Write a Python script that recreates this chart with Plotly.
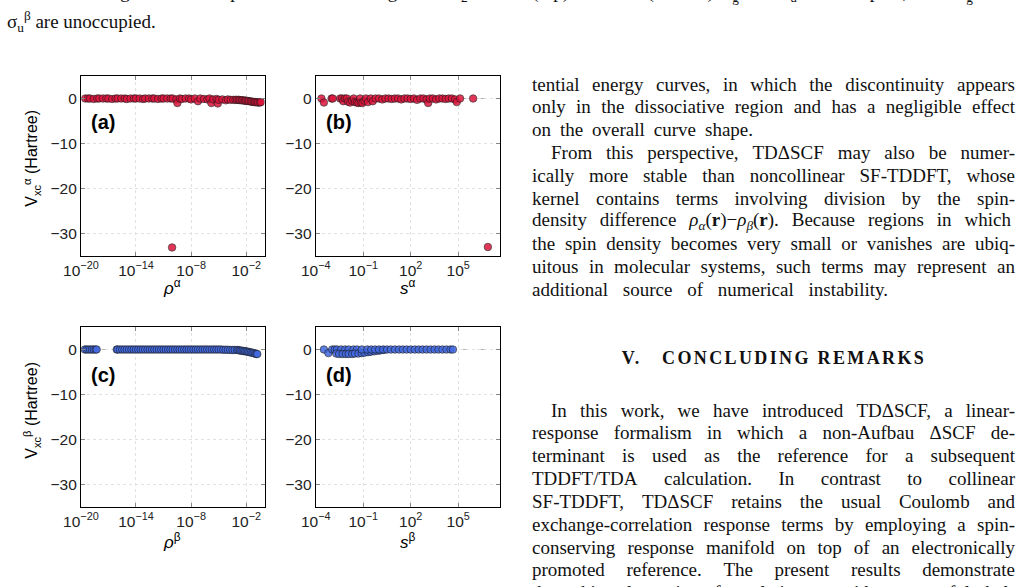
import json
import plotly.graph_objects as go

W, H = 1028, 587

# ---------------- data ----------------
RHO_ALPHA = [
    3e-20, 6e-20, 1e-19, 2.5e-19, 6e-19, 1e-18, 2.5e-18, 6e-18,
    1e-17, 2.5e-17, 6e-17, 1e-16, 2.5e-16, 6e-16, 1e-15, 2.5e-15, 6e-15,
    1e-14, 2.5e-14, 6e-14, 1e-13, 2.5e-13, 6e-13, 1e-12, 2.5e-12, 6e-12,
    1e-11, 2.5e-11, 6e-11, 8.5e-11, 1e-10, 2.5e-10, 3.2e-10, 6e-10,
    1e-9, 2.5e-9, 6e-9, 1e-8, 2.5e-8, 5.6e-8, 1e-7, 2.5e-7, 6e-7,
    1e-6, 1.6e-6, 2.5e-6, 6e-6, 8e-6, 1e-5, 2.5e-5, 6e-5,
    1e-4, 2e-4, 4e-4, 7e-4, 1e-3, 1.5e-3, 2e-3, 3e-3, 4e-3, 6e-3, 8e-3,
    1e-2, 1.5e-2, 2e-2, 3e-2, 4e-2, 6e-2, 8e-2, 1e-1, 1.5e-1, 2e-1, 3e-1, 4e-1,
]
VXC_ALPHA_RHO = [
    0, 0, 0, -0.1, 0, 0, 0, 0,
    0, -0.1, 0, 0, 0, 0, -0.1, 0, 0,
    0, 0, -0.1, 0, 0, 0, 0, -0.1, 0,
    0, 0, 0, -33.1, 0, -0.2, -1.0, 0,
    -0.1, 0, 0, -0.2, 0, -0.6, 0, -0.1, -0.2,
    0, -1.0, -0.2, -0.1, -1.1, -0.3, -0.2, -0.4,
    -0.2, -0.3, -0.3, -0.3, -0.3, -0.3, -0.35, -0.4, -0.4, -0.45, -0.5,
    -0.5, -0.55, -0.6, -0.65, -0.7, -0.75, -0.8, -0.8, -0.85, -0.9, -0.9, -0.8,
]
S_ALPHA = [
    2.3e-4, 3.3e-4, 1e-3, 1.2e-3,
    3.5e-3, 4.6e-3, 5.5e-3, 7e-3, 9.3e-3, 1.1e-2, 1.5e-2, 2e-2, 2.5e-2, 3e-2,
    4e-2, 5e-2, 6.3e-2, 7e-2, 9e-2, 1.2e-1, 1.5e-1, 2e-1, 3e-1, 4e-1, 6e-1,
    1, 1.6, 2.5, 4, 6.3, 10, 16, 25, 40, 63, 100, 160, 250, 400, 630,
    1000, 1260, 1600, 2500, 4000, 6300, 1e4, 1.6e4, 2.5e4, 4e4, 6.3e4, 8e4, 1.3e5,
    8.7e5, 7.4e6,
]
VXC_ALPHA_S = [
    0, -0.9, 0, 0,
    0, 0, -0.6, 0, 0, -0.7, -0.9, -0.5, 0, -0.8,
    -0.9, -1.0, 0, -0.9, -1.0, -0.5, 0, -0.8, 0, -0.6, 0,
    0, -0.2, 0, 0, -0.1, 0, 0, -0.2, 0, 0, -0.1, 0, -0.3, 0, 0,
    -0.2, -1.0, 0, 0, -0.2, 0, 0, -0.1, 0, 0, -0.2, -0.8, 0,
    0, -33.0,
]
RHO_BETA = [
    2.7e-20, 4e-20, 6.3e-20, 1e-19, 1.6e-19, 2.5e-19, 4e-19, 5.2e-19,
    8e-17,
    1e-16, 1.8e-16, 3.2e-16, 5.6e-16,
    1e-15, 1.8e-15, 3.2e-15, 5.6e-15,
    1e-14, 1.8e-14, 3.2e-14, 5.6e-14,
    1e-13, 1.8e-13, 3.2e-13, 5.6e-13,
    1e-12, 1.8e-12, 3.2e-12, 5.6e-12,
    1e-11, 1.8e-11, 3.2e-11, 5.6e-11,
    1e-10, 1.8e-10, 3.2e-10, 5.6e-10,
    1e-9, 1.8e-9, 3.2e-9, 5.6e-9,
    1e-8, 1.8e-8, 3.2e-8, 5.6e-8,
    1e-7, 1.8e-7, 3.2e-7, 5.6e-7,
    1e-6, 1.8e-6, 3.2e-6, 5.6e-6,
    1e-5, 1.8e-5, 3.2e-5, 5.6e-5,
    1e-4, 1.8e-4, 3.2e-4, 5.6e-4,
    1e-3, 1.4e-3, 2e-3, 2.8e-3, 4e-3, 5.6e-3, 8e-3,
    1.1e-2, 1.6e-2, 2.2e-2, 3.2e-2, 4.5e-2, 6.3e-2, 9e-2, 1.25e-1, 1.6e-1,
]
VXC_BETA_RHO = [
    0, 0, 0, 0, 0, 0, 0, 0,
    0,
    0, 0, 0, 0,
    0, 0, 0, 0,
    0, 0, 0, 0,
    0, 0, 0, 0,
    0, 0, 0, 0,
    0, 0, 0, 0,
    0, 0, 0, 0,
    0, 0, 0, 0,
    0, 0, 0, 0,
    0, 0, 0, 0,
    0, 0, 0, 0,
    0, 0, -0.05, -0.05,
    -0.05, -0.1, -0.1, -0.1,
    -0.1, -0.15, -0.2, -0.25, -0.3, -0.35, -0.4,
    -0.45, -0.5, -0.6, -0.65, -0.7, -0.8, -0.9, -1.0, -1.0,
]
S_BETA = [
    3.3e-4, 6.3e-4, 1.1e-3, 1.6e-3, 2.2e-3, 4e-3, 7.2e-3, 1.2e-2, 2.4e-2, 4e-2,
    2e-3, 3e-3, 5e-3, 8e-3, 1.2e-2, 2e-2, 3e-2, 5e-2, 8e-2, 1.2e-1, 2e-1, 3e-1,
    5e-1, 8e-1, 1.2, 2,
    8e-2, 1.8e-1, 3.2e-1, 5.6e-1, 1, 1.8, 3.2, 5.6, 10, 18, 32, 56, 100, 180,
    320, 560, 1000, 1800, 3200, 5600, 1e4, 1.8e4, 3.2e4, 4.6e4,
]
VXC_BETA_S = [
    0, -0.8, 0, 0, 0, 0, 0, 0, 0, 0,
    -0.9, -1.0, -1.0, -1.0, -1.0, -1.0, -0.9, -0.9, -0.8, -0.7, -0.6, -0.5,
    -0.4, -0.3, -0.2, -0.1,
    0, 0, 0, 0, 0, 0, 0, 0, 0, 0, 0, 0, 0, 0,
    0, 0, 0, 0, 0, 0, 0, 0, 0, 0,
]

Y_TICKS = [0, -10, -20, -30]
Y_TICK_TEXT = ["0", "\u221210", "\u221220", "\u221230"]
RHO_TICKS = [1e-20, 1e-14, 1e-8, 1e-2]
RHO_TICK_TEXT = ["10<sup>\u221220</sup>", "10<sup>\u221214</sup>",
                 "10<sup>\u22128</sup>", "10<sup>\u22122</sup>"]
S_TICKS = [1e-4, 1e-1, 1e2, 1e5]
S_TICK_TEXT = ["10<sup>\u22124</sup>", "10<sup>\u22121</sup>",
               "10<sup>2</sup>", "10<sup>5</sup>"]

CAPTION_LINES = [
    "FIG. 7. Exchange-correlation potential on the DFT grid for N<sub>2</sub> at 1.1 \u00c5 (top) and 3.0 \u00c5 (bottom). "
    "\u03c3<sub>g</sub><sup>\u03b1</sup> and \u03c3<sub>u</sub><sup>\u03b1</sup> are occupied, while \u03c3<sub>g</sub><sup>\u03b2</sup> and",
    "\u03c3<sub>u</sub><sup>\u03b2</sup> are unoccupied.",
]
PARA1_LINES = [
    "tential energy curves, in which the discontinuity appears",
    "only in the dissociative region and has a negligible effect",
    "on the overall curve shape.",
    "From this perspective, TD\u0394SCF may also be numer-",
    "ically more stable than noncollinear SF-TDDFT, whose",
    "kernel contains terms involving division by the spin-",
    "density difference <i>\u03c1</i><sub><i>\u03b1</i></sub>(<b>r</b>)\u2212<i>\u03c1</i><sub><i>\u03b2</i></sub>(<b>r</b>). Because regions in which",
    "the spin density becomes very small or vanishes are ubiq-",
    "uitous in molecular systems, such terms may represent an",
    "additional source of numerical instability.",
]
HEADING = "V.\u2003CONCLUDING REMARKS"
PARA2_LINES = [
    "In this work, we have introduced TD\u0394SCF, a linear-",
    "response formalism in which a non-Aufbau \u0394SCF de-",
    "terminant is used as the reference for a subsequent",
    "TDDFT/TDA calculation. In contrast to collinear",
    "SF-TDDFT, TD\u0394SCF retains the usual Coulomb and",
    "exchange-correlation response terms by employing a spin-",
    "conserving response manifold on top of an electronically",
    "promoted reference. The present results demonstrate",
    "that this alternative formulation provides a useful bal-",
]

RED = "#dc143c"
BLUE = "#4169e1"

fig = go.Figure()

panels = [
    dict(x=RHO_ALPHA, y=VXC_ALPHA_RHO, c=RED, ax="x", ay="y"),
    dict(x=S_ALPHA, y=VXC_ALPHA_S, c=RED, ax="x2", ay="y2"),
    dict(x=RHO_BETA, y=VXC_BETA_RHO, c=BLUE, ax="x3", ay="y3"),
    dict(x=S_BETA, y=VXC_BETA_S, c=BLUE, ax="x4", ay="y4"),
]
for p in panels:
    assert len(p["x"]) == len(p["y"])
    fig.add_trace(go.Scatter(
        x=p["x"], y=p["y"], mode="markers", xaxis=p["ax"], yaxis=p["ay"],
        marker=dict(size=7.5, color=p["c"], opacity=0.85,
                    line=dict(color="#1a1a1a", width=0.7)),
        showlegend=False, hoverinfo="skip",
    ))


def px_x(v):
    return v / W


def px_y(v):
    return 1 - v / H


X_DOM_L = [px_x(64), px_x(251)]
X_DOM_R = [px_x(303), px_x(491)]
Y_DOM_T = [px_y(256), px_y(76)]
Y_DOM_B = [px_y(507), px_y(327)]

TICKFONT = dict(family="Liberation Sans, Arial, sans-serif", size=15.5, color="#222")


def xaxis(domain, anchor, rng, tv, tt):
    return dict(domain=domain, anchor=anchor, type="log", range=rng,
                tickvals=tv, ticktext=tt, tickfont=TICKFONT,
                showline=True, linecolor="black", linewidth=1, mirror="ticks",
                ticks="inside", ticklen=4, tickcolor="#888",
                showgrid=True, gridcolor="#e2e2e2", griddash="dot", gridwidth=1,
                zeroline=False)


def yaxis(domain, anchor):
    return dict(domain=domain, anchor=anchor, range=[-35, 5],
                tickvals=Y_TICKS, ticktext=Y_TICK_TEXT, tickfont=TICKFONT,
                showline=True, linecolor="black", linewidth=1, mirror="ticks",
                ticks="inside", ticklen=4, tickcolor="#888",
                showgrid=True, gridcolor="#e2e2e2", griddash="dot", gridwidth=1,
                zeroline=False)


fig.update_layout(
    width=W, height=H, autosize=False,
    margin=dict(l=0, r=0, t=0, b=0),
    paper_bgcolor="white", plot_bgcolor="white",
    xaxis=xaxis(X_DOM_L, "y", [-20, 0], RHO_TICKS, RHO_TICK_TEXT),
    yaxis=yaxis(Y_DOM_T, "x"),
    xaxis2=xaxis(X_DOM_R, "y2", [-4, 7.66], S_TICKS, S_TICK_TEXT),
    yaxis2=yaxis(Y_DOM_T, "x2"),
    xaxis3=xaxis(X_DOM_L, "y3", [-20, 0], RHO_TICKS, RHO_TICK_TEXT),
    yaxis3=yaxis(Y_DOM_B, "x3"),
    xaxis4=xaxis(X_DOM_R, "y4", [-4, 7.66], S_TICKS, S_TICK_TEXT),
    yaxis4=yaxis(Y_DOM_B, "x4"),
)

for ax, ay in [("x", "y"), ("x2", "y2"), ("x3", "y3"), ("x4", "y4")]:
    fig.add_shape(type="line", xref=f"{ax} domain", yref=ay, x0=0, x1=1, y0=0, y1=0,
                  line=dict(color="#b5b5b5", width=1, dash="dash"), layer="below")

SANS = "Liberation Sans, Arial, sans-serif"
SERIF = "Liberation Serif, Times New Roman, serif"
anns = []
fit = {}


def ann(text, x, y, size, family, xanchor="left", angle=0, color="#111", fitspec=None):
    if fitspec is not None:
        fit[len(anns)] = fitspec
    anns.append(dict(text=text, x=px_x(x), y=px_y(y), xref="paper", yref="paper",
                     xanchor=xanchor, yanchor="middle", showarrow=False,
                     textangle=angle, font=dict(family=family, size=size, color=color)))


# panel letters: placed by plotly itself, relative to the axes
for lab, x, y in [("(a)", 72, 122), ("(b)", 311, 122), ("(c)", 72, 375), ("(d)", 311, 375)]:
    ann(f"<b>{lab}</b>", x, y, 20, SANS, color="#000")

ann("V<sub>xc</sub><sup>\u03b1</sup> (Hartree)", 14, 158, 16, SANS, xanchor="center", angle=-90, color="#000")
ann("V<sub>xc</sub><sup>\u03b2</sup> (Hartree)", 14, 410, 16, SANS, xanchor="center", angle=-90, color="#000")
for txt, cx, cy in [("<i>\u03c1</i><sup>\u03b1</sup>", 157, 287), ("<i>s</i><sup>\u03b1</sup>", 397, 287),
                    ("<i>\u03c1</i><sup>\u03b2</sup>", 157, 541), ("<i>s</i><sup>\u03b2</sup>", 397, 541)]:
    ann(txt, cx, cy, 17, SANS, xanchor="center", color="#000")

# caption
ann(CAPTION_LINES[0], 7, -9, 19, SERIF, fitspec=["justify", 7, 1020])
ann(CAPTION_LINES[1], 7, 21, 19, SERIF, fitspec=["left", 7])

# right column, justified to the column
LINE = 22.85
RIGHT = 1015
P1_LAST_RIGHT = {2: 753, 9: 888}
for i, t in enumerate(PARA1_LINES):
    x = 551 if i == 3 else 532
    ann(t, x, 84 + i * LINE, 19, SERIF, fitspec=["justify", x, P1_LAST_RIGHT.get(i, RIGHT)])
ann("<b>" + HEADING + "</b>", 774, 358, 18, SERIF, xanchor="center", fitspec=["center", 774, 302])
for i, t in enumerate(PARA2_LINES):
    x = 551 if i == 0 else 532
    ann(t, x, 410 + i * LINE, 19, SERIF, fitspec=["justify", x, RIGHT])

fig.update_layout(annotations=anns)

POST = """
(function(){
  document.documentElement.style.margin = '0';
  document.body.style.margin = '0';
  document.body.style.overflow = 'hidden';
  var gd = document.getElementById('{plot_id}');
  var FIT = %s;
  var NS = 'http://www.w3.org/2000/svg';
  function toLocal(t, px) {
    var r = gd.getBoundingClientRect();
    var m = t.getScreenCTM();
    return (r.left + px - m.e) / m.a;
  }
  function placeWords(t, left, target) {
    var words = t.textContent.split(/ +/).filter(function(w){ return w.length > 0; });
    while (t.firstChild) t.removeChild(t.firstChild);
    var spans = [];
    for (var i = 0; i < words.length; i++) {
      var s = document.createElementNS(NS, 'tspan');
      s.textContent = words[i];
      t.appendChild(s);
      spans.push(s);
    }
    var widths = spans.map(function(s){ return s.getComputedTextLength(); });
    var total = widths.reduce(function(a, b){ return a + b; }, 0);
    var gap = words.length > 1 ? (target - total) / (words.length - 1) : 0;
    var x = left;
    for (var j = 0; j < spans.length; j++) {
      spans[j].setAttribute('x', x);
      x += widths[j] + gap;
    }
  }
  function doFit(){
    var gs = gd.querySelectorAll('g.annotation');
    for (var k = 0; k < gs.length; k++) {
      var g = gs[k];
      var spec = FIT[g.getAttribute('data-index')];
      if (!spec) continue;
      var t = g.querySelector('text.annotation-text');
      if (!t || t.getAttribute('data-fitted')) continue;
      var bb = t.getBBox();
      t.setAttribute('text-anchor', 'start');
      t.style.textAnchor = 'start';
      var mode = spec[0];
      var txt = t.textContent;
      if (mode === 'left') {
        t.setAttribute('x', toLocal(t, spec[1]));
      } else if (mode === 'center') {
        if (spec[2]) {
          t.style.letterSpacing = ((spec[2] - bb.width) / Math.max(txt.length - 1, 1)) + 'px';
        }
        var w2 = t.getBBox().width;
        t.setAttribute('x', toLocal(t, spec[1]) - w2 / 2);
      } else if (mode === 'justify') {
        var L = toLocal(t, spec[1]), R = toLocal(t, spec[2]);
        t.setAttribute('x', L);
        if (t.children.length === 0) {
          placeWords(t, L, R - L);
        } else {
          var w = t.getBBox().width;
          var nsp = (txt.match(/ /g) || []).length;
          var corr = 0.06 * txt.length;
          if (nsp > 0) t.style.wordSpacing = ((R - L - corr - w) / nsp) + 'px';
        }
      }
      t.setAttribute('data-fitted', '1');
    }
  }
  doFit();
  if (gd.on) gd.on('plotly_afterplot', doFit);
})();
""" % json.dumps({str(k): v for k, v in fit.items()})

fig.write_html("out.html", config={"displayModeBar": False}, post_script=POST)
